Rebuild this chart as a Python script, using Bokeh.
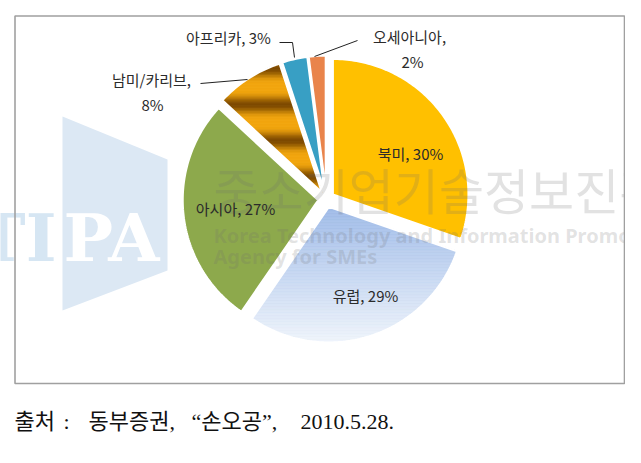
import numpy as np
from bokeh.plotting import figure
from bokeh.models import Range1d
from bokeh.core.properties import value
from bokeh.embed import file_html
from bokeh.resources import INLINE

# ---------------- data ----------------
categories = ["북미", "유럽", "아시아", "남미/카리브", "아프리카", "오세아니아"]
shares = [30, 29, 27, 8, 3, 2]
source_note = "출처 : 동부증권, \u201c손오공\u201d, 2010.5.28."

# ---------------- layout / style ----------------
CX, CY, R, EXPLODE = 325.8, 198.7, 135.7, 8.0
solid_colors = {"북미": "#FFC000", "아시아": "#8DA94C", "아프리카": "#389FC4", "오세아니아": "#E9844B"}
LABEL_FONT = value("Noto Sans CJK KR")


def hex2rgb(h):
    h = h.lstrip("#")
    return tuple(int(h[i:i + 2], 16) for i in (0, 2, 4))


def mix(c1, c2, t):
    a, b = hex2rgb(c1), hex2rgb(c2)
    return "#%02x%02x%02x" % tuple(int(round(a[i] + (b[i] - a[i]) * t)) for i in range(3))


def wedge_pts(cx, cy, r, a0, a1):
    n = max(8, int((a1 - a0) / 1.0))
    t = np.radians(np.linspace(a0, a1, n))
    xs = [cx] + list(cx + r * np.sin(t))
    ys = [cy] + list(cy - r * np.cos(t))
    return xs, ys


def clip_y(xs, ys, ylo, yhi):
    pts = list(zip(xs, ys))

    def clip(pts, keep, yb):
        out = []
        n = len(pts)
        for i in range(n):
            p, q = pts[i], pts[(i + 1) % n]
            pin, qin = keep(p[1]), keep(q[1])
            if pin:
                out.append(p)
            if pin != qin:
                t = (yb - p[1]) / (q[1] - p[1])
                out.append((p[0] + t * (q[0] - p[0]), yb))
        return out

    pts = clip(pts, lambda y: y >= ylo, ylo)
    if len(pts) < 3:
        return None
    pts = clip(pts, lambda y: y <= yhi, yhi)
    if len(pts) < 3:
        return None
    return [p[0] for p in pts], [p[1] for p in pts]


p = figure(width=625, height=447, output_backend="svg", toolbar_location=None,
           x_range=Range1d(0, 625), y_range=Range1d(447, 0), min_border=0)
p.axis.visible = False
p.grid.visible = False
p.outline_line_color = None
p.background_fill_color = "white"
p.border_fill_color = "white"

# ---- watermark logo (behind) ----
p.patch([62, 167, 167, 62], [116, 159, 270, 310], color="#DCE8F4", line_color=None)
p.text(x=[56], y=[237], text=["TI"], text_align="right", text_baseline="alphabetic",
       text_font=value("DejaVu Serif"), text_font_style="bold", text_font_size="66px",
       text_color="#D6E6F3")
p.text(x=[63], y=[237], text=["PA"], text_align="left", text_baseline="alphabetic",
       text_font=value("DejaVu Serif"), text_font_style="bold", text_font_size="66px",
       text_color="#FFFFFF")

# ---- pie slices ----
total = float(sum(shares))
cum = np.concatenate([[0], np.cumsum(shares)]) / total * 360.0
outline_xs, outline_ys = [], []
solid_xs, solid_ys, solid_c = [], [], []
strip_xs, strip_ys, strip_c = [], [], []
for i, cat in enumerate(categories):
    a0, a1 = cum[i], cum[i + 1]
    mid = np.radians((a0 + a1) / 2)
    cx = CX + EXPLODE * np.sin(mid)
    cy = CY - EXPLODE * np.cos(mid)
    xs, ys = wedge_pts(cx, cy, R, a0, a1)
    outline_xs.append(xs)
    outline_ys.append(ys)
    if cat in solid_colors:
        solid_xs.append(xs)
        solid_ys.append(ys)
        solid_c.append(solid_colors[cat])
    else:
        ymin, ymax = min(ys), max(ys)
        step = 1.5
        yy = ymin
        while yy < ymax:
            c = clip_y(xs, ys, yy, yy + step)
            if c is not None:
                if cat == "유럽":
                    t = (yy - ymin) / (ymax - ymin)
                    col = mix("#9FBBE8", "#EFF4FB", t)
                else:
                    w = (0.5 + 0.5 * np.cos(2 * np.pi * (yy - 104) / 36.0)) ** 2.0
                    col = mix("#F2A60E", "#7E4A00", w)
                strip_xs.append(c[0])
                strip_ys.append(c[1])
                strip_c.append(col)
            yy += step

p.patches(solid_xs, solid_ys, fill_color=solid_c, line_color=None)
p.patches(strip_xs, strip_ys, fill_color=strip_c, line_color=strip_c, line_width=0.8)
p.patches(outline_xs, outline_ys, fill_color=None, line_color="white", line_width=2.2)

# ---- watermark text (over pie) ----
p.text(x=[213], y=[188], text=["중소기업기술정보진흥원"], text_align="left", text_baseline="middle",
       text_font=value("Noto Sans CJK KR"), text_font_size="49px", text_color="#6E6E6E", text_alpha=0.2)
p.text(x=[213, 213], y=[235, 256], text=["Korea Technology and Information Promotion", "Agency for SMEs"],
       text_align="left", text_baseline="alphabetic", text_font=value("Noto Sans"),
       text_font_style="bold", text_font_size="20px", text_color="#6E6E6E", text_alpha=0.2)

# ---- data labels ----
lab = dict(zip(categories, shares))
label_text = [f"북미, {lab['북미']}%", f"유럽, {lab['유럽']}%", f"아시아, {lab['아시아']}%",
              "남미/카리브,", f"{lab['남미/카리브']}%", f"아프리카, {lab['아프리카']}%",
              "오세아니아,", f"{lab['오세아니아']}%"]
label_x = [410, 365, 235, 151, 152, 228, 409, 412]
label_y = [153, 295, 208, 79, 104, 37, 36, 61]
p.text(x=label_x, y=label_y, text=label_text, text_align="center", text_baseline="middle",
       text_font=LABEL_FONT, text_font_size="15px", text_color="#2B2B2B")

# leader lines
p.multi_line(xs=[[200, 247], [279, 292, 294], [314, 357]],
             ys=[[83, 79], [42, 42, 57], [56, 40]], line_color="#222222", line_width=1)

# ---- frame ----
p.quad(left=[14.5], right=[624], top=[15.5], bottom=[383], fill_color=None,
       line_color="#A0A0A0", line_width=1.6)

# ---- source note (split into its spaced parts) ----
note_parts = source_note.split()
note_x = [14, 63, 88, 191, 300]
p.text(x=note_x, y=[421] * len(note_parts), text=note_parts, text_align="left", text_baseline="middle",
       text_font=value("Liberation Serif, Noto Sans CJK KR"), text_font_size="22px",
       text_color="#111111")

open("out.html", "w").write(file_html(p, INLINE))
